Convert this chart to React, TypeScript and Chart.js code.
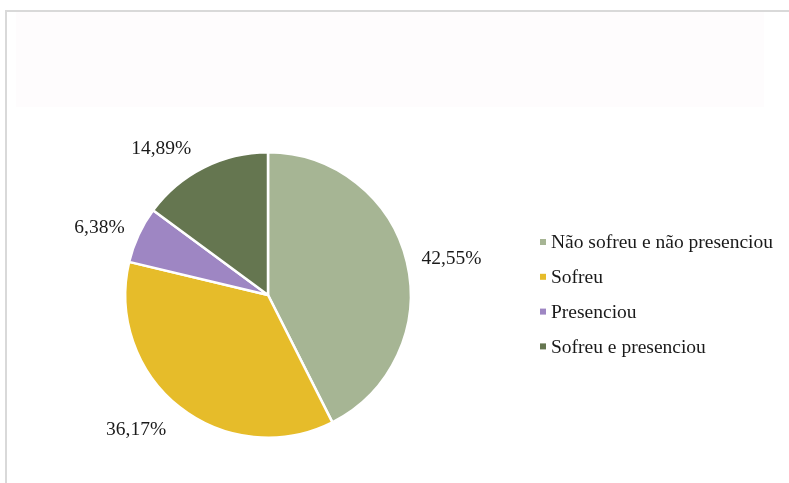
import React, { useEffect, useRef } from "react";
import { Chart, registerables } from "chart.js";

Chart.register(...registerables);

const categories = [
  "Não sofreu e não presenciou",
  "Sofreu",
  "Presenciou",
  "Sofreu e presenciou",
];
const values = [42.55, 36.17, 6.38, 14.89];
const valueLabels = ["42,55%", "36,17%", "6,38%", "14,89%"];
const colors = ["#A6B594", "#E6BC2A", "#9E86C3", "#657650"];

// label placement (style): angle shift in degrees, distance factor relative to radius
const labelAngleShift = [2.3, 6.1, -3.3, -9.4];
const labelDistance = [1.31, 1.32, 1.27, 1.266];

const FONT = "'Liberation Serif', 'Times New Roman', serif";

const framePlugin = {
  id: "frame",
  beforeDraw(chart: any) {
    const ctx = chart.ctx;
    ctx.save();
    ctx.fillStyle = "#ffffff";
    ctx.fillRect(0, 0, chart.width, chart.height);
    // faint title placeholder area
    ctx.fillStyle = "#FEFCFD";
    ctx.fillRect(16, 12, 748, 95);
    // border (top and left)
    ctx.fillStyle = "#D9D9D9";
    ctx.fillRect(5, 10, chart.width - 5, 2);
    ctx.fillRect(5, 10, 2, chart.height - 10);
    ctx.restore();
  },
  afterDraw(chart: any) {
    const ctx = chart.ctx;
    const meta = chart.getDatasetMeta(0);
    ctx.save();
    ctx.font = `19.5px ${FONT}`;
    ctx.fillStyle = "#1a1a1a";
    ctx.textAlign = "center";
    ctx.textBaseline = "middle";
    meta.data.forEach((arc: any, i: number) => {
      const p = arc.getProps(["x", "y", "startAngle", "endAngle", "outerRadius"], true);
      const mid = (p.startAngle + p.endAngle) / 2 + (labelAngleShift[i] * Math.PI) / 180;
      const d = p.outerRadius * labelDistance[i];
      ctx.fillText(valueLabels[i], p.x + Math.cos(mid) * d, p.y + Math.sin(mid) * d);
    });
    // legend
    const lx = 540;
    const ly0 = 242;
    const step = 34.8;
    ctx.textAlign = "left";
    chart.data.labels.forEach((lab: string, i: number) => {
      const y = ly0 + i * step;
      ctx.fillStyle = colors[i];
      ctx.fillRect(lx, y - 3, 6, 6);
      ctx.fillStyle = "#1a1a1a";
      ctx.fillText(lab, lx + 11, y + 1);
    });
    ctx.restore();
  },
};

export default function App() {
  const ref = useRef<HTMLCanvasElement | null>(null);
  useEffect(() => {
    if (!ref.current) return;
    const chart = new Chart(ref.current, {
      type: "pie",
      data: {
        labels: categories,
        datasets: [
          {
            data: values,
            backgroundColor: colors,
            borderColor: "#ffffff",
            borderWidth: 2.5,
          },
        ],
      },
      options: {
        animation: false,
        responsive: false,
        layout: { padding: { left: 124, right: 377, top: 151, bottom: 44 } },
        plugins: {
          legend: { display: false },
          tooltip: { enabled: false },
          title: { display: false },
        },
      },
      plugins: [framePlugin],
    });
    return () => chart.destroy();
  }, []);
  return (
    <div style={{ position: "fixed", left: 0, top: 0, width: 789, height: 483 }}>
      <canvas ref={ref} width={789} height={483} style={{ width: 789, height: 483 }} />
    </div>
  );
}
